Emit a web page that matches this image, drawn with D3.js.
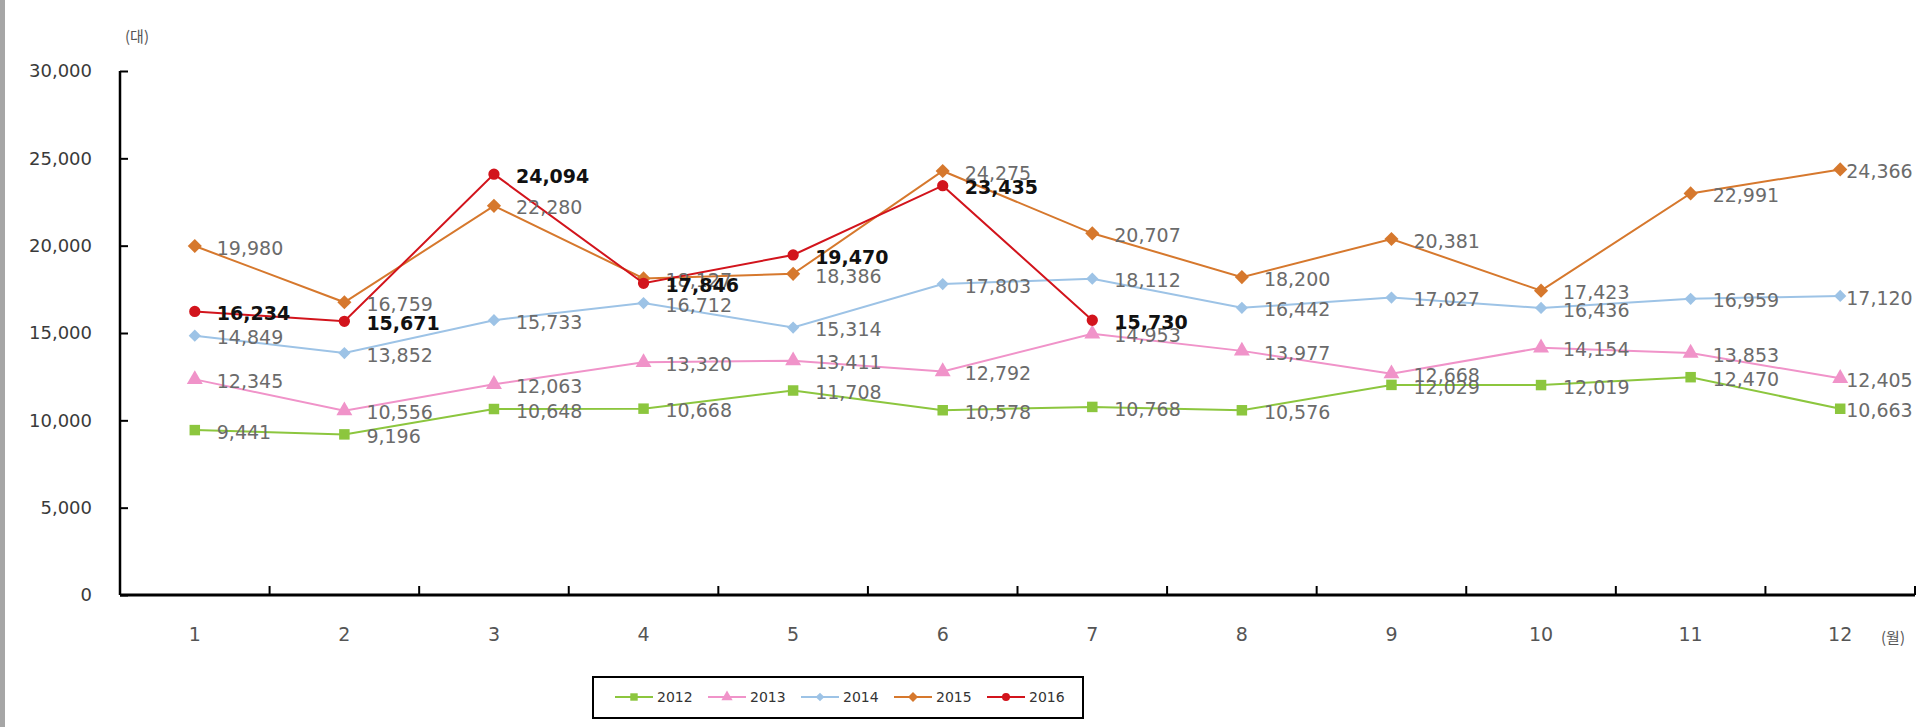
<!DOCTYPE html>
<html>
<head>
<meta charset="utf-8">
<script src="https://cdn.jsdelivr.net/npm/d3@7"></script>
<style>
  body { margin: 0; background: #fff; }
  svg { display: block; }
</style>
</head>
<body>
<div id="chart"></div>
<script>
// months and yearly series (monthly totals)
const months = [1, 2, 3, 4, 5, 6, 7, 8, 9, 10, 11, 12];
const years = ["2012", "2013", "2014", "2015", "2016"];
const v2012 = [9441, 9196, 10648, 10668, 11708, 10578, 10768, 10576, 12029, 12019, 12470, 10663];
const v2013 = [12345, 10556, 12063, 13320, 13411, 12792, 14953, 13977, 12668, 14154, 13853, 12405];
const v2014 = [14849, 13852, 15733, 16712, 15314, 17803, 18112, 16442, 17027, 16436, 16959, 17120];
const v2015 = [19980, 16759, 22280, 18127, 18386, 24275, 20707, 18200, 20381, 17423, 22991, 24366];
const v2016 = [16234, 15671, 24094, 17846, 19470, 23435, 15730];
const yTicks = [0, 5000, 10000, 15000, 20000, 25000, 30000];

const colors = { "2012": "#8cc63e", "2013": "#f093c9", "2014": "#9dc3e6", "2015": "#d6782d", "2016": "#d2141c" };
const shapes = { "2012": d3.symbolSquare, "2013": d3.symbolTriangle, "2014": d3.symbolSquare, "2015": d3.symbolSquare, "2016": d3.symbolCircle };
const rot = { "2012": 0, "2013": 0, "2014": 45, "2015": 45, "2016": 0 };
const sizes = { "2012": 110, "2013": 110, "2014": 75, "2015": 100, "2016": 100 };

const series = [
  { year: "2012", values: v2012 },
  { year: "2013", values: v2013 },
  { year: "2014", values: v2014 },
  { year: "2015", values: v2015 },
  { year: "2016", values: v2016 }
];

const W = 1920, H = 727;
const svg = d3.select("#chart").append("svg")
  .attr("width", W).attr("height", H);

svg.append("rect").attr("width", W).attr("height", H).attr("fill", "#fff");
// grey frame edge on the left
svg.append("rect").attr("x", 0).attr("y", 0).attr("width", 5).attr("height", H).attr("fill", "#a6a6a6");

const numFont = "'DejaVu Sans', sans-serif";
const krFont = "'Noto Sans CJK KR', sans-serif";

const x = d3.scaleBand().domain(months).range([120, 1915]).padding(0);
const y = d3.scaleLinear().domain([0, 30000]).range([595, 71]);
const cx = m => x(m) + x.bandwidth() / 2;

// y axis
const yAxis = svg.append("g")
  .attr("transform", "translate(120,0)")
  .call(d3.axisLeft(y).tickValues(yTicks).tickSize(-8).tickPadding(28).tickFormat(d3.format(",")));
yAxis.select(".domain").attr("stroke", "#000").attr("stroke-width", 2.5).attr("d", "M0,71V595");
yAxis.selectAll(".tick line").attr("stroke", "#000").attr("stroke-width", 2);
yAxis.selectAll("text").attr("font-family", numFont).attr("font-size", 18).attr("fill", "#3a3a3a");

// x axis
const xAxis = svg.append("g")
  .attr("transform", "translate(0,595)")
  .call(d3.axisBottom(x).tickSize(0).tickPadding(33));
xAxis.select(".domain").attr("stroke", "#000").attr("stroke-width", 3).attr("d", "M120,0H1915");
xAxis.selectAll("text").attr("font-family", numFont).attr("font-size", 19).attr("fill", "#555");

// tick marks between months
svg.append("g").selectAll("line")
  .data(months)
  .join("line")
  .attr("x1", d => x(d) + x.bandwidth()).attr("x2", d => x(d) + x.bandwidth())
  .attr("y1", 595).attr("y2", 586)
  .attr("stroke", "#000").attr("stroke-width", 2);

// unit labels
svg.append("text").attr("x", 137).attr("y", 42).attr("text-anchor", "middle")
  .attr("font-family", krFont).attr("font-size", 15).attr("fill", "#555").text("(대)");
svg.append("text").attr("x", 1893).attr("y", 643).attr("text-anchor", "middle")
  .attr("font-family", krFont).attr("font-size", 15).attr("fill", "#555").text("(월)");

const line = d3.line().x((d, i) => cx(months[i])).y(d => y(d));

// lines and markers
series.forEach(s => {
  const g = svg.append("g");
  g.append("path").datum(s.values)
    .attr("fill", "none").attr("stroke", colors[s.year]).attr("stroke-width", 2)
    .attr("d", line);
  g.selectAll("path.pt").data(s.values).join("path")
    .attr("class", "pt")
    .attr("transform", (d, i) => `translate(${cx(months[i])},${y(d)}) rotate(${rot[s.year]})`)
    .attr("d", d3.symbol().type(shapes[s.year]).size(sizes[s.year]))
    .attr("fill", colors[s.year]);
});

// data labels
series.forEach(s => {
  const bold = s.year === "2016";
  svg.append("g").selectAll("text").data(s.values).join("text")
    .attr("x", (d, i) => cx(months[i]) + (i === 11 ? 6 : 22))
    .attr("y", d => y(d) + 2)
    .attr("dy", "0.35em")
    .attr("font-family", numFont)
    .attr("font-size", 19)
    .attr("font-weight", bold ? "bold" : "normal")
    .attr("fill", bold ? "#111" : "#6b6b6b")
    .text(d => d3.format(",")(d));
});

// legend
const legend = svg.append("g");
legend.append("rect").attr("x", 593).attr("y", 677).attr("width", 490).attr("height", 41)
  .attr("fill", "#fff").attr("stroke", "#000").attr("stroke-width", 2);
const lx = d3.scalePoint().domain(years).range([615, 987]);
const items = legend.selectAll("g.item").data(years).join("g")
  .attr("class", "item")
  .attr("transform", d => `translate(${lx(d)},697)`);
items.append("line").attr("x1", 0).attr("x2", 38).attr("y1", 0).attr("y2", 0)
  .attr("stroke", d => colors[d]).attr("stroke-width", 2);
items.append("path").attr("transform", d => `translate(19,0) rotate(${rot[d]})`)
  .attr("d", d => d3.symbol().type(shapes[d]).size(sizes[d] * 0.5)())
  .attr("fill", d => colors[d]);
items.append("text").attr("x", 42).attr("y", 0).attr("dy", "0.35em")
  .attr("font-family", numFont).attr("font-size", 14).attr("fill", "#333")
  .text(d => d);
</script>
</body>
</html>
